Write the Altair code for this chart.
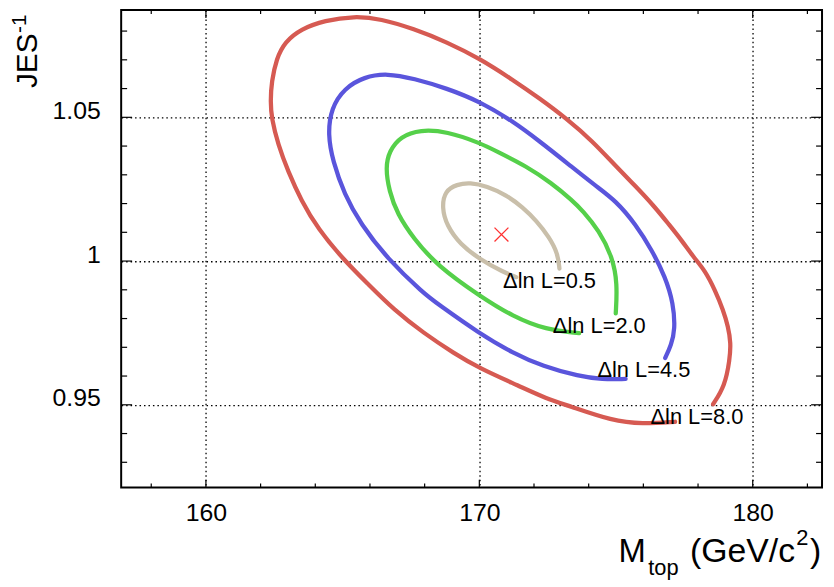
import altair as alt
import pandas as pd

# ---------------- data ----------------
red_x = [178.55, 178.98, 179.16, 179.20, 179.10, 178.92, 178.62, 178.25, 177.83, 177.41, 176.92, 176.44,
         175.71, 174.99, 174.14, 173.17, 172.20, 171.23, 170.02, 168.81, 167.60, 166.39, 165.42, 164.34,
         163.49, 162.88, 162.58, 162.40, 162.36, 162.40, 162.64, 163.00, 163.49, 164.09, 165.06, 165.91,
         166.88, 167.97, 169.06, 170.02, 171.47, 172.44, 173.29, 174.87, 175.95, 177.16]
red_y = [0.9502, 0.9565, 0.9657, 0.9716, 0.9772, 0.9830, 0.9899, 0.9968, 1.0014, 1.0071, 1.0129, 1.0186,
         1.0261, 1.0330, 1.0417, 1.0497, 1.0566, 1.0630, 1.0704, 1.0762, 1.0808, 1.0843, 1.0852, 1.0837,
         1.0808, 1.0762, 1.0704, 1.0624, 1.0555, 1.0497, 1.0405, 1.0313, 1.0210, 1.0113, 1.0002, 0.9922,
         0.9830, 0.9749, 0.9680, 0.9626, 0.9565, 0.9522, 0.9496, 0.9444, 0.9433, 0.9441]

blue_x = [176.80, 177.02, 177.16, 177.10, 176.80, 176.32, 175.71, 174.99, 174.26, 173.35, 172.20, 171.23,
          170.02, 168.81, 167.60, 166.63, 165.79, 165.06, 164.58, 164.46, 164.64, 165.06, 165.66, 166.63,
          167.97, 168.45, 170.02, 171.23, 172.32, 173.65, 174.50, 175.35]
blue_y = [0.9663, 0.9709, 0.9761, 0.9853, 0.9945, 1.0037, 1.0129, 1.0210, 1.0261, 1.0330, 1.0417, 1.0486,
          1.0555, 1.0601, 1.0635, 1.0653, 1.0641, 1.0601, 1.0532, 1.0440, 1.0348, 1.0233, 1.0129, 1.0009,
          0.9887, 0.9853, 0.9747, 0.9680, 0.9634, 0.9599, 0.9588, 0.9590]

green_x = [174.99, 175.05, 174.87, 174.38, 173.78, 173.41, 172.63, 171.72, 170.63, 170.02, 168.81, 167.84,
           167.12, 166.70, 166.57, 166.70, 167.00, 167.60, 168.45, 170.02, 171.23, 172.44, 173.65]
green_y = [0.9818, 0.9922, 1.0014, 1.0106, 1.0175, 1.0210, 1.0272, 1.0330, 1.0382, 1.0411, 1.0451, 1.0457,
           1.0434, 1.0382, 1.0325, 1.0244, 1.0164, 1.0078, 0.9985, 0.9878, 0.9807, 0.9761, 0.9749]

beige_x = [172.93, 172.87, 172.56, 172.08, 171.60, 170.99, 170.27, 169.66, 169.18, 168.74, 168.63, 168.81,
           169.30, 170.02, 170.87, 171.35]
beige_y = [0.9974, 1.0026, 1.0083, 1.0141, 1.0186, 1.0230, 1.0261, 1.0273, 1.0267, 1.0244, 1.0186, 1.0123,
           1.0058, 1.0006, 0.9962, 0.9944]

levels = ["8.0", "4.5", "2.0", "0.5"]
level_colors = ["#d65a52", "#5a55dc", "#55d04a", "#c9bfaa"]

best_x = [170.81]
best_y = [1.0092]

label_text = ["\u0394ln L=0.5", "\u0394ln L=2.0", "\u0394ln L=4.5", "\u0394ln L=8.0"]
label_x = [170.87, 172.69, 174.32, 176.26]
label_y = [0.9906, 0.9750, 0.9595, 0.9433]

x_major = [160, 170, 180]
x_minor = [158, 162, 164, 166, 168, 172, 174, 176, 178, 182]
y_major = [0.95, 1.0, 1.05]
y_minor = [0.93, 0.94, 0.96, 0.97, 0.98, 0.99, 1.01, 1.02, 1.03, 1.04, 1.06, 1.07, 1.08]

x_domain = [156.9, 182.535]
y_domain = [0.9212, 1.0873]

# ---------------- layout ----------------
W, H = 706, 481
FONT = "Liberation Sans"

frames = []
for lv, xs_, ys_ in zip(levels, [red_x, blue_x, green_x, beige_x], [red_y, blue_y, green_y, beige_y]):
    frames.append(pd.DataFrame({"mtop": xs_, "jes": ys_, "level": lv, "i": list(range(len(xs_)))}))
contours = pd.concat(frames, ignore_index=True)

xs = alt.Scale(domain=x_domain, nice=False, zero=False)
ys = alt.Scale(domain=y_domain, nice=False, zero=False)

axis_common = dict(grid=True, gridDash=[1.5, 3], gridColor="black", gridWidth=1.3, gridOpacity=1,
                   ticks=False, tickSize=0, domain=False, labelFont=FONT, labelColor="black",
                   title=None)
x_axis = alt.Axis(values=x_major, labelFontSize=25, labelPadding=13, format="d", **axis_common)
y_axis = alt.Axis(values=y_major, labelFontSize=25, labelPadding=21, format="~g", labelOffset=-7,
                  **axis_common)


def X(field):
    return alt.X(field, scale=xs, axis=x_axis)


def Y(field):
    return alt.Y(field, scale=ys, axis=y_axis)


lines = alt.Chart(contours).mark_line(strokeWidth=4.3, strokeCap="round", strokeJoin="round",
                                      interpolate="basis", clip=True).encode(
    x=X("mtop:Q"),
    y=Y("jes:Q"),
    color=alt.Color("level:N", scale=alt.Scale(domain=levels, range=level_colors), legend=None),
    detail="level:N",
    order="i:Q",
)

marker = alt.Chart(pd.DataFrame({"mtop": best_x, "jes": best_y})).mark_point(
    shape="M-1,-1L1,1M-1,1L1,-1", filled=False, size=196, strokeWidth=1.3, opacity=1
).encode(x=X("mtop:Q"), y=Y("jes:Q"), stroke=alt.value("#ff3030"), color=alt.value("#ff3030"))

labels = alt.Chart(pd.DataFrame({"t": label_text, "mtop": label_x, "jes": label_y})).mark_text(
    align="left", baseline="alphabetic", font=FONT, fontSize=22, color="black"
).encode(x=X("mtop:Q"), y=Y("jes:Q"), text="t:N")


# inward tick marks on all four sides
def xticks(vals, length):
    df = pd.DataFrame({"v": vals})
    b = alt.Chart(df).mark_rule(color="black", strokeWidth=1.2)
    bottom = b.encode(x=X("v:Q"), y=alt.value(H), y2=alt.value(H - length))
    top = b.encode(x=X("v:Q"), y=alt.value(0), y2=alt.value(length))
    return [bottom, top]


def yticks(vals, length):
    df = pd.DataFrame({"v": vals})
    b = alt.Chart(df).mark_rule(color="black", strokeWidth=1.2)
    left = b.encode(y=Y("v:Q"), x=alt.value(0), x2=alt.value(length))
    right = b.encode(y=Y("v:Q"), x=alt.value(W), x2=alt.value(W - length))
    return [left, right]


tick_layers = xticks(x_major, 8) + xticks(x_minor, 4) + yticks(y_major, 11) + yticks(y_minor, 6)


# axis titles built from pieces (sub/superscripts)
def piece(text, x, y, size, angle=0):
    return alt.Chart(pd.DataFrame({"t": [text]})).mark_text(
        align="left", baseline="alphabetic", font=FONT, fontSize=size, color="black", angle=angle
    ).encode(text="t:N", x=alt.value(x), y=alt.value(y))


TB = 555.5  # title baseline (relative to plot top)
title_layers = [
    piece("M", 501, TB, 33),
    piece("top", 531, TB + 14, 22),
    piece("(GeV/c", 573, TB, 34),
    piece("2", 680, TB - 17, 22),
    piece(")", 694, TB, 34),
    piece("JES", -84.5, 78.5, 30, angle=270),
    piece("-1", -96, 23, 21, angle=270),
]

chart = alt.layer(lines, marker, labels, *tick_layers, *title_layers).properties(
    width=W, height=H,
    background="white",
    autosize=alt.AutoSizeParams(type="none"),
    padding={"left": 114, "top": 0, "right": 4, "bottom": 94},
).configure_view(stroke="black", strokeWidth=2)

chart.save("out.html", embed_options={"renderer": "svg", "actions": False})
